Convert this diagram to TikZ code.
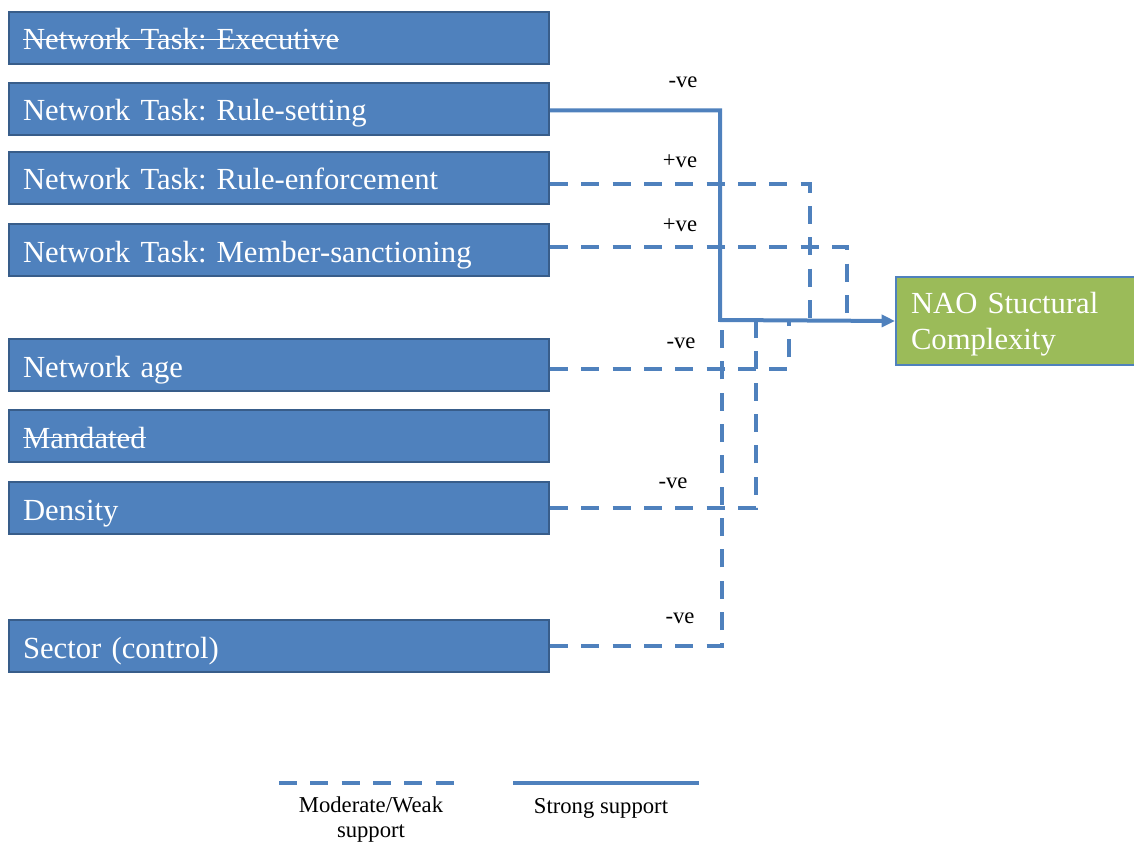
\documentclass[tikz,border=0pt]{standalone}
\usepackage{fontspec}
\setmainfont{Liberation Serif}
\usetikzlibrary{arrows.meta}
\definecolor{boxblue}{HTML}{4F81BD}
\definecolor{boxedge}{HTML}{385D8A}
\definecolor{naogreen}{HTML}{9BBB59}
\definecolor{linkblue}{HTML}{4F81BD}
\frenchspacing
% struck-through text: a thin rule in the current colour across the word box
\newcommand\struck[1]{\setbox0\hbox{#1}\rlap{\rule[0.33em]{\wd0}{0.7pt}}\box0}
\begin{document}
\begin{tikzpicture}[x=0.75pt,y=-0.75pt,
  factor/.style={draw=boxedge, line width=1.5pt, fill=boxblue, text=white,
    font=\fontsize{23}{27.6}\selectfont, minimum height=39pt, text width=384pt,
    text height=19pt, text depth=1pt,
    inner xsep=10.5pt, inner ysep=0pt, align=left, anchor=west},
  outcome/.style={draw=linkblue, line width=1.5pt, fill=naogreen, text=white,
    font=\fontsize{23}{27}\selectfont, minimum height=66pt, text width=159pt,
    text height=17pt, text depth=29pt,
    inner xsep=11.25pt, inner ysep=0pt, align=left, anchor=north west},
  strong/.style={draw=linkblue, line width=3pt},
  weak/.style={strong, dash pattern=on 13.5pt off 10pt},
  sign/.style={font=\fontsize{17}{20}\selectfont, inner sep=0pt},
  legendtext/.style={font=\fontsize{17}{19}\selectfont, align=center, inner sep=0pt}]
\useasboundingbox (0,0) rectangle (1134,845);

% predictor boxes
\node[factor] (ex)  at (8,38)  {\struck{Network Task: Executive}};
\node[factor] (rs)  at (8,109) {Network Task: Rule-setting};
\node[factor] (re)  at (8,178) {Network Task: Rule-enforcement};
\node[factor] (ms)  at (8,250) {Network Task: Member-sanctioning};
\node[factor] (age) at (8,365) {Network age};
\node[factor] (man) at (8,436) {\struck{Mandated}};
\node[factor] (den) at (8,508) {Density};
\node[factor] (sec) at (8,646) {Sector (control)};

% outcome box
\node[outcome] (nao) at (895,276) {NAO Stuctural\\Complexity};

% junction points on the arrow into the outcome
\coordinate (jrs)  at (720,320);
\coordinate (jre)  at (810,320);
\coordinate (jms)  at (847,320);
\coordinate (jage) at (789,320);
\coordinate (jden) at (756,320);
\coordinate (jsec) at (722,320);

% connectors
\draw[strong, -{Triangle[length=10pt,width=9pt]}] ([yshift=-1pt]rs.east) -| (jrs) -- (nao.west);
\draw[weak] ([yshift=-4.5pt]re.east)  -| (jre);
\draw[weak] ([yshift=2pt]ms.east)  -| (jms);
\draw[weak] ([yshift=-3pt]age.east) -| (jage);
\draw[weak] (den.east) -| (jden);
\draw[weak] (sec.east) -| (jsec);

% effect signs
\node[sign] (srs)  at (683,82)  {-ve};
\node[sign] (sre)  at (680,161) {+ve};
\node[sign] (sms)  at (680,225) {+ve};
\node[sign] (sage) at (681,343) {-ve};
\node[sign] (sden) at (673,483) {-ve};
\node[sign] (ssec) at (680,618) {-ve};

% legend
\coordinate (lw1) at (279,783);
\coordinate (lw2) at (460,783);
\coordinate (ls1) at (513,783);
\coordinate (ls2) at (699,783);
\draw[weak] (lw1) -- (lw2);
\draw[strong] (ls1) -- (ls2);
\node[legendtext, anchor=north] (lwt) at (371,796) {Moderate/Weak\\support};
\node[legendtext, anchor=north] (lst) at (601,798) {Strong support};
\end{tikzpicture}
\end{document}
